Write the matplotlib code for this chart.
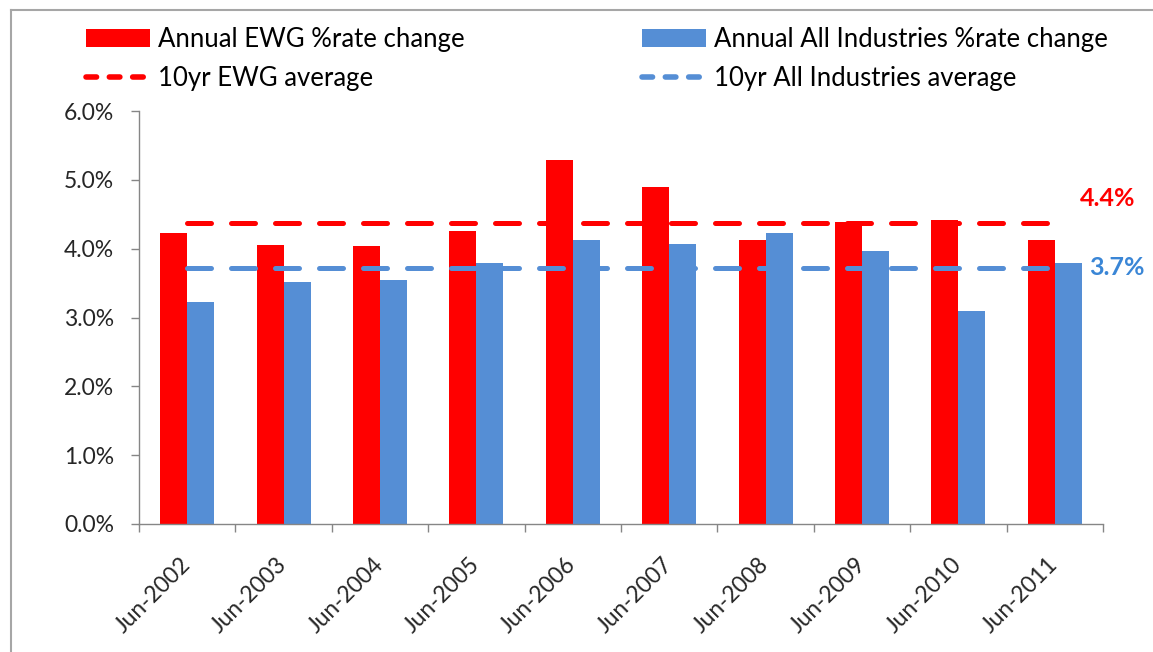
import matplotlib
matplotlib.use("Agg")
import matplotlib.pyplot as plt
import numpy as np
from matplotlib.lines import Line2D
from matplotlib.patches import Patch

plt.rcParams["font.family"] = ["Lato", "DejaVu Sans"]

# values (percent)
years = ["Jun-2002", "Jun-2003", "Jun-2004", "Jun-2005", "Jun-2006",
         "Jun-2007", "Jun-2008", "Jun-2009", "Jun-2010", "Jun-2011"]
ewg = [4.23, 4.06, 4.04, 4.26, 5.29, 4.90, 4.12, 4.39, 4.41, 4.12]
all_ind = [3.23, 3.51, 3.54, 3.79, 4.12, 4.07, 4.23, 3.96, 3.09, 3.79]
ewg_avg = 4.38
all_avg = 3.72

red = "#FF0000"
blue = "#558ED5"
grey = "#868686"
txt = "#262626"

fig = plt.figure(figsize=(11.53, 6.52), dpi=100)
ax = fig.add_axes([139 / 1153, 1 - 524 / 652, (1103 - 139) / 1153, (524 - 111) / 652])

x = np.arange(len(years))
w = 0.28
ax.bar(x - w / 2, ewg, w, color=red, linewidth=0)
ax.bar(x + w / 2, all_ind, w, color=blue, linewidth=0)

# 10yr average lines
ax.plot(x, [ewg_avg] * len(x), color=red, lw=3.6, dashes=(4.8, 4.0),
        dash_capstyle="round")
ax.plot(x, [all_avg] * len(x), color=blue, lw=3.6, dashes=(4.8, 4.0),
        dash_capstyle="round")

ax.annotate(f"{ewg_avg:.1f}%", xy=(9.5, ewg_avg), xytext=(-16.5, 17),
            textcoords="offset points", ha="left", va="center",
            color=red, fontsize=18, fontweight="bold")
ax.annotate(f"{all_avg:.1f}%", xy=(9.5, all_avg), xytext=(-10, 0),
            textcoords="offset points", ha="left", va="center",
            color="#3A86D6", fontsize=18, fontweight="bold")

ax.set_xlim(-0.5, len(years) - 0.5)
ax.set_ylim(0, 6)
ax.set_yticks(np.arange(0, 6.01, 1))
ax.set_yticklabels([f"{v:.1f}%" for v in np.arange(0, 6.01, 1)])
ax.tick_params(axis="y", direction="out", length=6, width=1, color=grey,
               pad=12, labelsize=16.5, labelcolor=txt)

ax.set_xticks(np.arange(-0.5, len(years)), labels=[""] * (len(years) + 1))
ax.tick_params(axis="x", which="major", direction="out", length=6, width=1, color=grey)
ax.set_xticks(x, labels=years, minor=True)
ax.tick_params(axis="x", which="minor", length=0, pad=27, labelsize=16.5, labelcolor=txt)
for lab in ax.get_xticklabels(minor=True):
    lab.set_rotation(45)
    lab.set_ha("right")
    lab.set_va("center")
    lab.set_rotation_mode("anchor")

for s in ["top", "right"]:
    ax.spines[s].set_visible(False)
for s in ["left", "bottom"]:
    ax.spines[s].set_color(grey)
    ax.spines[s].set_linewidth(1)

# legend, two columns
fs = 18.5
h1 = [Patch(color=red, linewidth=0),
      Line2D([], [], color=red, lw=4, dashes=(1.9, 2.3), dash_capstyle="round")]
h2 = [Patch(color=blue, linewidth=0),
      Line2D([], [], color=blue, lw=4, dashes=(1.9, 2.3), dash_capstyle="round")]
leg_kw = dict(loc="upper left", frameon=False, fontsize=fs, handlelength=2.49,
              handletextpad=0.31, labelspacing=0.55, borderpad=0, borderaxespad=0)
fig.legend(h1, ["Annual EWG %rate change", "10yr EWG average"],
           bbox_to_anchor=(86 / 1153, 1 - 27 / 652), **leg_kw)
fig.legend(h2, ["Annual All Industries %rate change", "10yr All Industries average"],
           bbox_to_anchor=(642 / 1153, 1 - 27 / 652), **leg_kw)

# outer chart frame (left and top edges visible)
fig.add_artist(Line2D([11 / 1153, 11 / 1153], [0, 1 - 10 / 652], color="#A6A6A6", lw=1.5))
fig.add_artist(Line2D([11 / 1153, 1], [1 - 10 / 652, 1 - 10 / 652], color="#A6A6A6", lw=1.5))

fig.savefig("out.png", dpi=100)
